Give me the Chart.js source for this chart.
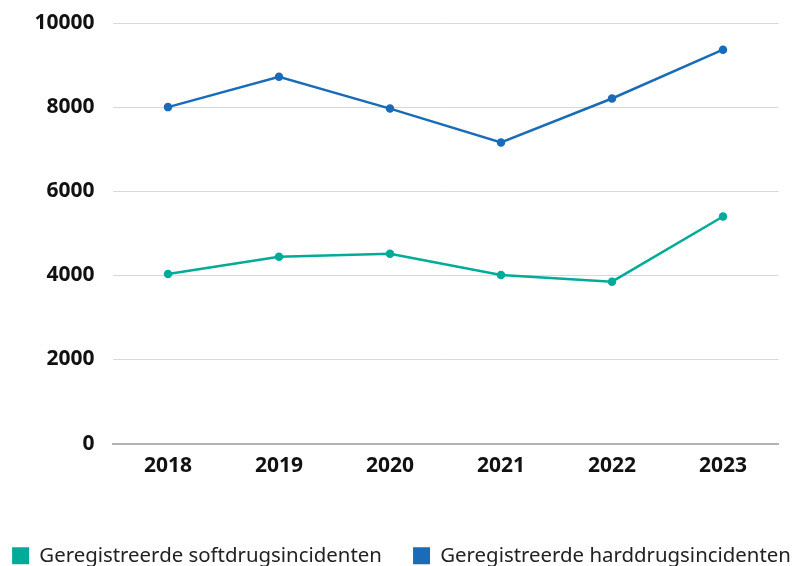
<!DOCTYPE html>
<html>
<head>
<meta charset="utf-8">
<script src="https://cdn.jsdelivr.net/npm/chart.js@4"></script>
<style>
  html, body { margin: 0; padding: 0; background: #fff; }
  #wrap { width: 803px; height: 566px; }
</style>
</head>
<body>
<div id="wrap"><canvas id="grafica"></canvas></div>
<script>
const jaren = ["2018", "2019", "2020", "2021", "2022", "2023"];
const softdrugs = [4030, 4445, 4515, 4010, 3850, 5400];
const harddrugs = [8000, 8720, 7965, 7160, 8205, 9365];
const yTicks = [0, 2000, 4000, 6000, 8000, 10000];

const kleurSoft = "#00ab97";
const kleurHard = "#1a6bb8";

const ctx = document.getElementById("grafica");

new Chart(ctx, {
    type: "line",
    data: {
        labels: jaren,
        datasets: [
            {
                label: "Geregistreerde softdrugsincidenten",
                data: softdrugs,
                borderColor: kleurSoft,
                backgroundColor: kleurSoft,
                borderWidth: 2.5,
                pointRadius: 3,
                pointHoverRadius: 3,
                tension: 0
            },
            {
                label: "Geregistreerde harddrugsincidenten",
                data: harddrugs,
                borderColor: kleurHard,
                backgroundColor: kleurHard,
                borderWidth: 2.5,
                pointRadius: 3,
                pointHoverRadius: 3,
                tension: 0
            }
        ]
    },
    options: {
        responsive: true,
        maintainAspectRatio: false,
        animation: false,
        layout: { padding: { top: 23, right: 0, left: 0, bottom: -10 } },
        plugins: {
            tooltip: { enabled: false },
            legend: {
                position: "bottom",
                labels: {
                    boxWidth: 17,
                    boxHeight: 17,
                    padding: 10,
                    color: "#222",
                    font: { family: "'Noto Sans', sans-serif", size: 20.4 },
                    // extra ruimte na het eerste item, anders past de legenda niet op één regel
                    generateLabels: chart => chart.data.datasets.map((ds, i) => ({
                        text: i === 0 ? ds.label + "    " : ds.label,
                        fillStyle: ds.borderColor,
                        strokeStyle: ds.borderColor,
                        lineWidth: 0,
                        datasetIndex: i,
                        fontColor: "#222"
                    }))
                }
            }
        },
        scales: {
            x: {
                offset: true,
                grid: { display: false, drawTicks: false, offset: true },
                border: { display: true, color: "#b3b3b3", width: 2 },
                ticks: {
                    color: "#111",
                    padding: 10,
                    font: { family: "'Noto Sans', sans-serif", size: 21, weight: "bold" }
                },
                afterFit: scale => { scale.height = 92; }
            },
            y: {
                min: 0,
                max: 10000,
                afterBuildTicks: scale => { scale.ticks = yTicks.map(v => ({ value: v })); },
                grid: { color: "#d9d9d9", lineWidth: 1, drawTicks: false },
                border: { display: false },
                ticks: {
                    color: "#111",
                    padding: 18,
                    callback: v => String(v),
                    font: { family: "'Noto Sans', sans-serif", size: 21, weight: "bold" }
                },
                afterFit: scale => {
                    scale.width = 112.5;
                    scale.paddingTop = 0;
                    scale.paddingBottom = 0;
                }
            },
            rechts: {
                position: "right",
                grid: { display: false, drawTicks: false },
                border: { display: false },
                ticks: { display: false },
                afterFit: scale => { scale.width = 24.5; }
            }
        }
    }
});
</script>
</body>
</html>
